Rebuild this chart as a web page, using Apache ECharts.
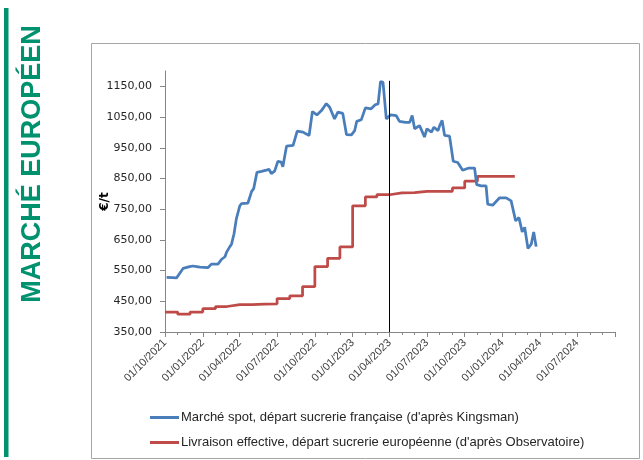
<!DOCTYPE html>
<html>
<head>
<meta charset="utf-8">
<script src="https://cdn.jsdelivr.net/npm/echarts@6/dist/echarts.min.js"></script>
<style>
  html, body { margin: 0; padding: 0; background: #fff; }
  #chart { width: 643px; height: 460px; }
</style>
</head>
<body>
<div id="chart"></div>
<script>
// spot price, french sugar mill (weekly)
const spotDates = [
  "2021-10-05", "2021-10-09", "2021-10-20", "2021-10-29", "2021-11-14", "2021-11-30",
  "2021-12-08", "2021-12-17", "2021-12-25", "2022-01-14", "2022-01-22", "2022-02-07",
  "2022-02-16", "2022-02-24", "2022-02-28", "2022-03-08", "2022-03-12", "2022-03-18",
  "2022-03-24", "2022-03-28", "2022-04-01", "2022-04-05", "2022-04-21", "2022-04-25",
  "2022-04-30", "2022-05-05", "2022-05-13", "2022-05-24", "2022-06-05", "2022-06-11",
  "2022-06-17", "2022-06-25", "2022-07-03", "2022-07-11", "2022-07-15", "2022-07-24",
  "2022-08-09", "2022-08-19", "2022-09-02", "2022-09-17", "2022-09-25", "2022-10-06",
  "2022-10-17", "2022-10-29", "2022-11-06", "2022-11-18", "2022-11-26", "2022-12-08",
  "2022-12-17", "2022-12-29", "2023-01-06", "2023-01-11", "2023-01-22", "2023-02-01",
  "2023-02-15", "2023-02-25", "2023-03-04", "2023-03-10", "2023-03-16", "2023-03-24",
  "2023-04-03", "2023-04-17", "2023-04-25", "2023-05-10", "2023-05-20", "2023-05-26",
  "2023-06-01", "2023-06-13", "2023-06-25", "2023-07-01", "2023-07-12", "2023-07-18",
  "2023-07-28", "2023-08-01", "2023-08-07", "2023-08-13", "2023-08-25", "2023-09-03",
  "2023-09-14", "2023-09-26", "2023-10-11", "2023-10-25", "2023-10-30", "2023-11-10",
  "2023-11-22", "2023-11-26", "2023-12-08", "2023-12-25", "2024-01-10", "2024-01-22",
  "2024-02-02", "2024-02-10", "2024-02-18", "2024-02-24", "2024-03-03", "2024-03-11",
  "2024-03-17", "2024-03-23"
];
const spotPrices = [
  528, 524, 527, 526, 557, 563,
  565, 563, 561, 560, 571, 571,
  587, 595, 610, 628, 636, 669,
  720, 740, 760, 768, 770, 772,
  808, 817, 870, 873, 877, 880,
  866, 874, 906, 903, 888, 955,
  958, 1004, 1001, 990, 1068, 1057,
  1071, 1094, 1082, 1044, 1066, 1062,
  993, 992, 1006, 1036, 1041, 1080,
  1077, 1090, 1093, 1166, 1163, 1044,
  1057, 1055, 1036, 1033, 1033, 1055,
  1012, 1022, 985, 1012, 1001, 1017,
  1006, 1022, 1039, 990, 988, 906,
  902, 877, 884, 884, 830, 826,
  826, 766, 763, 787, 787, 777,
  712, 723, 676, 691, 622, 636,
  676, 628
];

// effective delivery price, european sugar mill (monthly)
const deliveryMonths = [
  "2021-10", "2021-11", "2021-12", "2022-01", "2022-02", "2022-03", "2022-04",
  "2022-05", "2022-06", "2022-07", "2022-08", "2022-09", "2022-10", "2022-11",
  "2022-12", "2023-01", "2023-02", "2023-03", "2023-04", "2023-05", "2023-06",
  "2023-07", "2023-08", "2023-09", "2023-10", "2023-11", "2023-12", "2024-01"
];
const deliveryPrices = [
  415, 408, 415, 426, 433, 439, 439,
  441, 442, 459, 468, 498, 563, 590,
  627, 761, 790, 797, 803, 804, 808,
  808, 808, 819, 841, 857, 857, 857
];

const quarterTicks = [
  "2021-10-01", "2022-01-01", "2022-04-01", "2022-07-01", "2022-10-01", "2023-01-01",
  "2023-04-01", "2023-07-01", "2023-10-01", "2024-01-01", "2024-04-01", "2024-07-01",
  "2024-10-01"
];
const yTicks = [350, 450, 550, 650, 750, 850, 950, 1050, 1150];
const referenceDate = "2023-04-01";
const referenceTop = 1168;

const toTime = (s) => Date.parse(s.length === 7 ? s + "-01" : s);
const pad = (n) => (n < 10 ? "0" + n : "" + n);
const fmtDate = (v) => {
  const d = new Date(v);
  return pad(d.getUTCDate()) + "/" + pad(d.getUTCMonth() + 1) + "/" + d.getUTCFullYear();
};

const xMin = toTime(quarterTicks[0]);
const xMax = toTime(quarterTicks[quarterTicks.length - 1]);
const tickTimes = quarterTicks.map(toTime);

// monthly minor ticks
const monthTimes = [];
for (let y = 2021, m = 9; Date.UTC(y, m, 1) <= xMax; m++) {
  if (m > 11) { m = 0; y++; }
  monthTimes.push(Date.UTC(y, m, 1));
}

const spotData = spotDates.map((d, i) => [toTime(d), spotPrices[i]]);
const deliveryData = deliveryMonths.map((m, i) => [toTime(m), deliveryPrices[i]]);
const lastMonth = deliveryMonths[deliveryMonths.length - 1];
deliveryData.push([
  Date.UTC(+lastMonth.slice(0, 4), +lastMonth.slice(5, 7), 0),
  deliveryPrices[deliveryPrices.length - 1]
]);

const axisGrey = "#868686";
const chart = echarts.init(document.getElementById("chart"), null, { renderer: "canvas" });

const option = {
  animation: false,
  backgroundColor: "#ffffff",
  grid: { left: 165, right: 28, top: 71, bottom: 128 },
  graphic: [
    { type: "rect", shape: { x: 4, y: 8, width: 4.5, height: 449 }, style: { fill: "#00916E" } },
    {
      type: "text", x: 33, y: 164, rotation: Math.PI / 2,
      style: {
        text: "MARCHÉ EUROPÉEN", fill: "#00916E", font: "bold 27px 'Liberation Sans', Arial",
        align: "center", verticalAlign: "middle"
      }
    },
    {
      type: "rect", shape: { x: 91.5, y: 43.5, width: 548, height: 415 },
      style: { fill: "none", stroke: "#a6a6a6", lineWidth: 1 }, z: -1
    }
  ],
  legend: {
    orient: "vertical", left: 145, top: 406, itemWidth: 29, itemHeight: 3, itemGap: 12,
    icon: "rect",
    textStyle: { fontFamily: "Liberation Sans", fontSize: 13, color: "#262626", padding: [0, 0, 0, -3] },
    data: [
      "Marché spot, départ sucrerie française (d'après Kingsman)",
      "Livraison effective, départ sucrerie européenne (d'après Observatoire)"
    ]
  },
  xAxis: [
    {
      type: "value", min: xMin, max: xMax, position: "bottom",
      axisLine: { show: true, lineStyle: { color: axisGrey, width: 1 } },
      axisTick: { show: true, customValues: tickTimes, length: 5, lineStyle: { color: axisGrey } },
      axisLabel: {
        customValues: tickTimes.slice(0, -1), rotate: 45, margin: 9,
        fontFamily: "Liberation Sans", fontSize: 11, color: "#404040",
        formatter: fmtDate
      },
      splitLine: { show: false }
    },
    {
      type: "value", min: xMin, max: xMax, position: "bottom",
      axisLine: { show: false },
      axisTick: { show: true, customValues: monthTimes, length: 3, lineStyle: { color: axisGrey } },
      axisLabel: { show: false },
      splitLine: { show: false }
    }
  ],
  yAxis: {
    type: "value", min: 350, max: 1200,
    name: "€/t", nameLocation: "middle", nameGap: 54, nameRotate: 90, nameMoveOverlap: false,
    nameTextStyle: { fontFamily: "DejaVu Sans", fontWeight: "bold", fontSize: 12, color: "#000" },
    axisLine: { show: true, lineStyle: { color: axisGrey, width: 1 } },
    axisTick: { show: true, customValues: yTicks, length: 5, lineStyle: { color: axisGrey } },
    axisLabel: {
      customValues: yTicks, margin: 13,
      fontFamily: "DejaVu Sans", fontSize: 11, color: "#262626",
      formatter: (v) => v.toFixed(2).replace(".", ",")
    },
    splitLine: { show: false }
  },
  series: [
    {
      name: "Marché spot, départ sucrerie française (d'après Kingsman)",
      type: "line", xAxisIndex: 0, data: spotData, showSymbol: false,
      lineStyle: { color: "#4A7EBB", width: 2.75 }, itemStyle: { color: "#4A7EBB" },
      z: 3,
      markLine: {
        silent: true, symbol: "none", label: { show: false },
        lineStyle: { color: "#000", width: 1, type: "solid" },
        data: [[{ coord: [toTime(referenceDate), 350] }, { coord: [toTime(referenceDate), referenceTop] }]]
      }
    },
    {
      name: "Livraison effective, départ sucrerie européenne (d'après Observatoire)",
      type: "line", xAxisIndex: 0, data: deliveryData, step: "end", showSymbol: false,
      lineStyle: { color: "#BE4B48", width: 2.75 }, itemStyle: { color: "#BE4B48" },
      z: 2
    }
  ]
};

chart.setOption(option);
</script>
</body>
</html>
